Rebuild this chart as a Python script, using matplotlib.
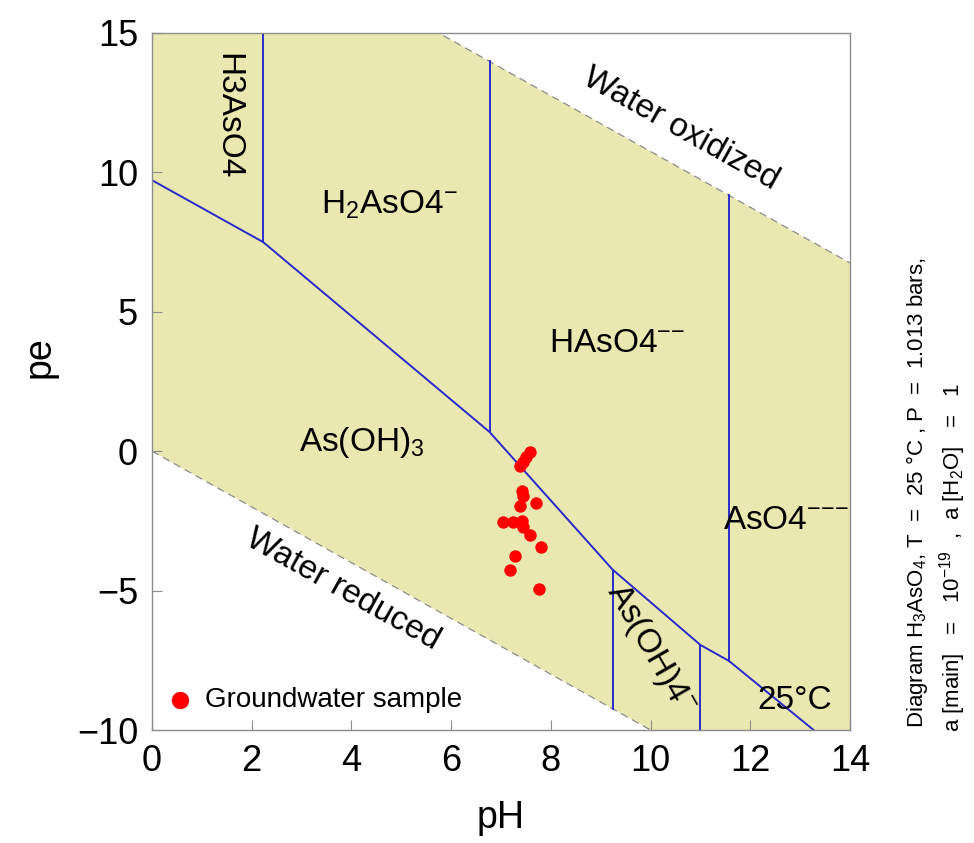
import numpy as np
import matplotlib
matplotlib.use("Agg")
import matplotlib.pyplot as plt

plt.rcParams['font.family'] = ['Liberation Sans', 'DejaVu Sans']
plt.rcParams['mathtext.fontset'] = 'custom'
plt.rcParams['mathtext.rm'] = 'Liberation Sans'
plt.rcParams['mathtext.it'] = 'Liberation Sans:italic'
plt.rcParams['mathtext.bf'] = 'Liberation Sans:bold'

# groundwater samples (pH, pe)
sample_ph = [7.59, 7.51, 7.45, 7.38, 7.42, 7.45, 7.38, 7.70, 7.04,
             7.24, 7.42, 7.44, 7.58, 7.80, 7.28, 7.19, 7.77]
sample_pe = [-0.04, -0.22, -0.40, -0.52, -1.42, -1.60, -1.96, -1.87, -2.55,
             -2.55, -2.49, -2.73, -3.00, -3.43, -3.75, -4.26, -4.96]

# water stability limits
ox_ph = [0, 14]
ox_pe = [20.75, 6.75]
red_ph = [0, 14]
red_pe = [0, -14]

# redox boundary As(V)/As(III)
redox_ph = [0, 2.23, 6.77, 9.24, 11.0, 11.57, 13.27]
redox_pe = [9.72, 7.5, 0.69, -4.25, -6.95, -7.52, -10.0]

# acid-base boundaries (vertical)
vert_ph = [2.23, 6.77, 9.24, 11.0, 11.57]
vert_top = [15, 13.98, -4.25, -6.95, 9.18]
vert_bot = [7.5, 0.69, -9.24, -10.0, -7.52]

fill_col = '#e9e8b0'
blue = '#2a2acc'
gray = '#8c8c8c'

fig = plt.figure(figsize=(9.74, 8.43), dpi=100)
ax = fig.add_axes([152/974, 1-730/843, 698/974, 697/843])

ax.fill_between(ox_ph, red_pe, ox_pe, color=fill_col, lw=0, zorder=0)
ax.plot(ox_ph, ox_pe, color=gray, lw=0.9, ls=(0, (6, 4)), zorder=1)
ax.plot(red_ph, red_pe, color=gray, lw=0.9, ls=(0, (6, 4)), zorder=1)

ax.plot(redox_ph, redox_pe, color=blue, lw=1.4, zorder=2)
for x, y0, y1 in zip(vert_ph, vert_bot, vert_top):
    ax.plot([x, x], [y0, y1], color=blue, lw=1.4, zorder=2)

ax.scatter(sample_ph, sample_pe, s=80, color='#ff0000', lw=0, zorder=3,
           label='Groundwater sample')

# species labels
fs = 24
ax.text(1.52, 12.0, 'H3AsO4', rotation=-90, ha='center', va='center', fontsize=fs)
ax.text(4.75, 8.84, r'H$_2$AsO4$^{-}$', ha='center', va='center', fontsize=fs)
ax.text(9.33, 3.88, r'HAsO4$^{{-}{-}}$', ha='center', va='center', fontsize=fs)
ax.text(4.21, 0.30, r'As(OH)$_3$', ha='center', va='center', fontsize=fs)
ax.text(12.72, -2.47, r'AsO4$^{{-}{-}{-}}$', ha='center', va='center', fontsize=fs)
ax.text(9.99, -7.1, r'As(OH)4$^{-}$', rotation=-60, ha='center', va='center', fontsize=fs)
ax.text(12.9, -8.93, '25°C', ha='center', va='center', fontsize=fs)
ax.text(10.6, 11.55, 'Water oxidized', rotation=-29.2, ha='center', va='center', fontsize=24)
ax.text(3.83, -4.97, 'Water reduced', rotation=-29.2, ha='center', va='center', fontsize=24)

ax.set_xlim(0, 14)
ax.set_ylim(-10, 15)
ax.set_xticks(np.arange(0, 15, 2))
ax.set_yticks(np.arange(-10, 16, 5))
ax.tick_params(direction='in', length=7, color=gray, labelsize=26, pad=10)
for sp in ax.spines.values():
    sp.set_color(gray)
    sp.set_linewidth(1.0)

ax.set_xlabel('pH', fontsize=27, labelpad=15)
ax.set_ylabel('pe', fontsize=27)
ax.yaxis.set_label_coords(-0.135, 0.535)

ax.legend(loc='lower left', frameon=False, fontsize=20, markerscale=1.4,
          handlelength=0.8, handletextpad=0.5, borderaxespad=0.3, borderpad=0.3)

fig.text(917/974, 1-728/843,
         r'Diagram H$_3$AsO$_4$, T  =  25 °C , P  =  1.013 bars,',
         rotation=90, ha='center', va='bottom', fontsize=16)
fig.text(953/974, 1-732/843,
         r'a [main]   =   10$^{-19}$  ,  a [H$_2$O]   =   1',
         rotation=90, ha='center', va='bottom', fontsize=16)

fig.savefig('out.png', dpi=100)
